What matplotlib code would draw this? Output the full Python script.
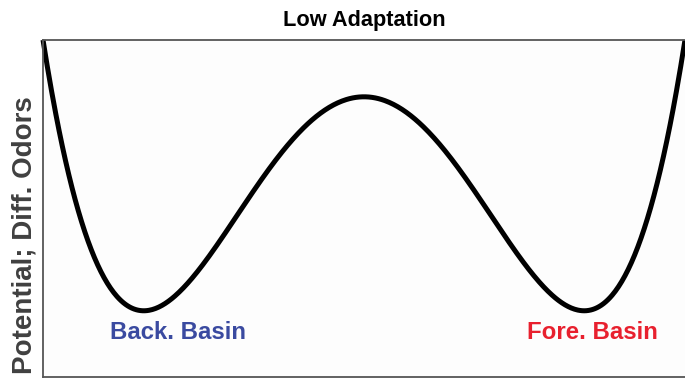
import numpy as np
import matplotlib.pyplot as plt

plt.rcParams['font.family'] = ['Liberation Sans', 'DejaVu Sans']

# double-well potential: wells at +/- well_pos, barrier at 0
well_pos = 0.686
x_range = (-1.0, 1.0)

basin_names = ['Back. Basin', 'Fore. Basin']
basin_x = [-0.579, 0.713]
basin_colors = ['#3a4aa0', '#e8202e']

x = np.linspace(x_range[0], x_range[1], 600)
pot = x**4 - 2 * well_pos**2 * x**2
v_min = -well_pos**4
v_edge = 1 - 2 * well_pos**2

fig = plt.figure(figsize=(6.85, 3.79), dpi=100)
ax = fig.add_axes([0.0628, 0.0053, 0.9372, 0.8892])
ax.set_facecolor('#fdfdfd')

ax.plot(x, pot, color='black', lw=3.6, solid_capstyle='butt', clip_on=False)

for name, bx, col in zip(basin_names, basin_x, basin_colors):
    ax.text(bx, v_min - 0.0228, name, color=col, fontsize=17.3,
            fontweight='bold', ha='center', va='center')

ax.set_xlim(*x_range)
ax.set_ylim(-0.290, v_edge)
ax.set_xticks([])
ax.set_yticks([])
for s in ['top', 'left', 'bottom']:
    ax.spines[s].set_color('#555555')
    ax.spines[s].set_linewidth(1.3)
ax.spines['right'].set_visible(False)

ax.set_title('Low Adaptation', fontsize=15.7, fontweight='bold', pad=10)
ax.set_ylabel('Potential; Diff. Odors', fontsize=20, fontweight='bold',
              color='#404040')
ax.yaxis.set_label_coords(-0.009, 0.42)

fig.savefig('out.png', dpi=100)
